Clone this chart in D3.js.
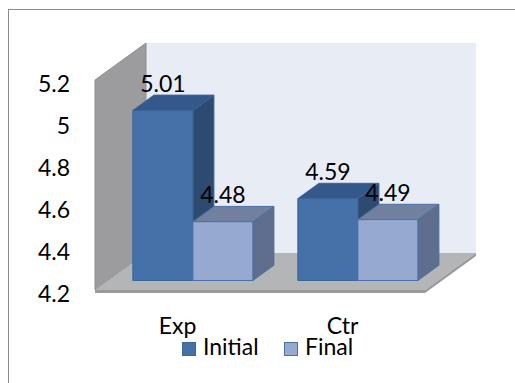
<!DOCTYPE html>
<html>
<head>
<meta charset="utf-8">
<script src="https://cdn.jsdelivr.net/npm/d3@7"></script>
<style>
  html, body { margin: 0; padding: 0; background: #fff; }
  svg { display: block; }
  text { font-family: Lato, "Open Sans", sans-serif; fill: #000; }
</style>
</head>
<body>
<svg id="chart" width="515" height="383"></svg>
<script>
// Chart data
const categories = ["Exp", "Ctr"];
const seriesNames = ["Initial", "Final"];
const initialValues = [5.01, 4.59];
const finalValues = [4.48, 4.49];
const yTicks = [4.2, 4.4, 4.6, 4.8, 5, 5.2];

const seriesValues = [initialValues, finalValues];

// Face colours per series: front, top, side, outline
const palette = [
  { front: "#4571a8", top: "#35588a", side: "#2d4a70", stroke: "#3b6498" },
  { front: "#95a9d1", top: "#70809e", side: "#5f6e8c", stroke: "#4a70a6" }
];

const svg = d3.select("#chart");
const fontSize = 23;

// Oblique projection: depth d in [0,1] shifts right and up
const DX = 51, DY = -37;
const P = (x, y, d) => [x + DX * d, y + DY * d];
const poly = pts => pts.map(p => p.join(",")).join(" ");

// Front-plane scales
const x0 = 95, x1 = 425;
const y = d3.scaleLinear().domain([4.2, 5.2]).range([290, 80]);
const xCat = d3.scaleBand().domain(categories).range([x0, x1]).padding(0);
const xSer = d3.scaleBand().domain(seriesNames).range([0, xCat.bandwidth()])
  .paddingInner(0).paddingOuter(0.375).align(0.55);

// Chart-area frame
svg.append("rect").attr("x", 8.5).attr("y", 9.5).attr("width", 520).attr("height", 400)
  .attr("fill", "#fff").attr("stroke", "#8c8c8c").attr("stroke-width", 1);

const yBase = y(4.2), yTop = y(5.2);

// Back wall
svg.append("polygon")
  .attr("points", poly([P(x0, yTop, 1), P(x1, yTop, 1), P(x1, yBase, 1), P(x0, yBase, 1)]))
  .attr("fill", "#e8ecf5");

// Left side wall
svg.append("polygon")
  .attr("points", poly([P(x0, yTop, 0), P(x0, yTop, 1), P(x0, yBase, 1), P(x0, yBase, 0)]))
  .attr("fill", "#9c9c9e").attr("stroke", "#8e8e90").attr("stroke-width", 1);

// Floor: top surface, front edge and right edge
svg.append("polygon")
  .attr("points", poly([P(x0, yBase, 0), P(x1, yBase, 0), P(x1, yBase, 1), P(x0, yBase, 1)]))
  .attr("fill", "#b4b5b7");
svg.append("polygon")
  .attr("points", poly([P(x0, yBase, 0), P(x1, yBase, 0), P(x1, yBase + 3, 0), P(x0, yBase + 3, 0)]))
  .attr("fill", "#9a9a9c");
svg.append("polygon")
  .attr("points", poly([P(x1, yBase, 0), P(x1, yBase, 1), P(x1, yBase + 3, 1), P(x1, yBase + 3, 0)]))
  .attr("fill", "#9a9a9c");

// Bars sit between these depths
const d1 = 0.257, d2 = 0.67;

const bars = [];
categories.forEach((c, ci) => {
  seriesNames.forEach((s, si) => {
    bars.push({ cat: c, ser: si, value: seriesValues[si][ci] });
  });
});

const barG = svg.append("g");
bars.forEach(b => {
  const w = xSer.bandwidth();
  const bx = xCat(b.cat) + xSer(seriesNames[b.ser]);
  const top = y(b.value);
  const col = palette[b.ser];
  const g = barG.append("g");
  // right side
  g.append("polygon")
    .attr("points", poly([P(bx + w, top, d1), P(bx + w, top, d2), P(bx + w, yBase, d2), P(bx + w, yBase, d1)]))
    .attr("fill", col.side).attr("stroke", col.stroke).attr("stroke-width", 1).attr("stroke-linejoin", "round");
  // top
  g.append("polygon")
    .attr("points", poly([P(bx, top, d1), P(bx + w, top, d1), P(bx + w, top, d2), P(bx, top, d2)]))
    .attr("fill", col.top).attr("stroke", col.stroke).attr("stroke-width", 1).attr("stroke-linejoin", "round");
  // front
  g.append("polygon")
    .attr("points", poly([P(bx, top, d1), P(bx + w, top, d1), P(bx + w, yBase, d1), P(bx, yBase, d1)]))
    .attr("fill", col.front).attr("stroke", col.stroke).attr("stroke-width", 1).attr("stroke-linejoin", "round");
  b.labelX = P(bx + w / 2, top, d1)[0];
  b.labelY = P(bx, top, d2)[1] - 3.5;
});

// Value labels
svg.append("g").selectAll("text").data(bars).join("text")
  .attr("x", d => d.labelX).attr("y", d => d.labelY)
  .attr("text-anchor", "middle").style("font-size", fontSize + "px")
  .text(d => d.value.toFixed(2));

// Value axis labels
const yAxis = d3.axisLeft(y).tickValues(yTicks).tickSize(0).tickPadding(0)
  .tickFormat(d => String(d));
const ya = svg.append("g").attr("transform", "translate(70,4)").call(yAxis);
ya.select(".domain").remove();
ya.selectAll("text").attr("font-family", null).attr("font-size", null)
  .style("font-size", fontSize + "px").attr("dy", "0.33em");

// Category labels
const xAxis = d3.axisBottom(xCat).tickSize(0).tickPadding(0);
const xa = svg.append("g").attr("transform", "translate(0,334)").call(xAxis);
xa.select(".domain").remove();
xa.selectAll("text").attr("font-family", null).attr("font-size", null)
  .style("font-size", fontSize + "px").attr("dy", 0).attr("y", 0);

// Legend
const legendX = [182, 284];
const lg = svg.append("g").selectAll("g").data(seriesNames).join("g")
  .attr("transform", (d, i) => `translate(${legendX[i]},342)`);
lg.append("rect").attr("x", 0.5).attr("y", 0.5).attr("width", 13).attr("height", 13)
  .attr("fill", (d, i) => palette[i].front).attr("stroke", (d, i) => palette[i].stroke);
lg.append("text").attr("x", 21).attr("y", 13)
  .style("font-size", fontSize + "px").text(d => d);
</script>
</body>
</html>
